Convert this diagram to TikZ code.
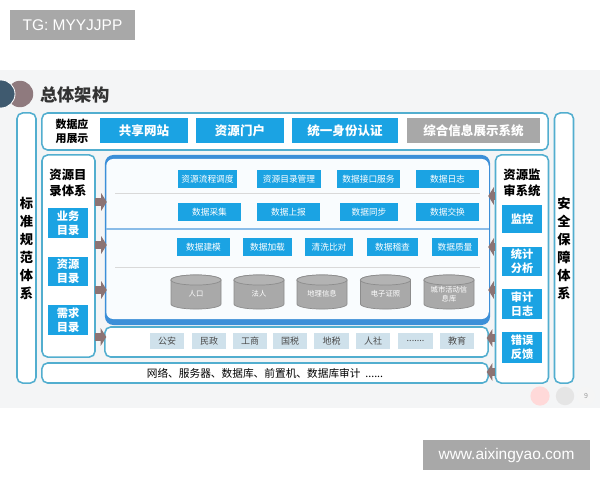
\documentclass[tikz,border=0pt]{standalone}
\usepackage{fontspec}
\setmainfont{Noto Sans CJK SC}
\newfontfamily\wmfont{Liberation Sans}
\usetikzlibrary{arrows.meta}
\definecolor{boxblue}{HTML}{1BA3E3}
\definecolor{frameblue}{HTML}{52AECF}
\definecolor{midblue}{HTML}{3C8FD8}
\definecolor{mauve}{HTML}{8C7373}
\definecolor{slidebg}{HTML}{F4F5F6}
\definecolor{govfill}{HTML}{CFE1EB}
\definecolor{cylgray}{HTML}{A9A9A9}
\definecolor{wmgray}{HTML}{A8A8A8}
\definecolor{darkdot}{HTML}{3F5A6F}
\definecolor{mauvedot}{HTML}{8F7A7E}

\tikzset{
  panel/.style={draw=frameblue, line width=1.1pt, rounded corners=4pt, fill=white, inner sep=0pt},
  bluebox/.style={fill=boxblue, text=white, inner sep=0pt, align=center, font=\bfseries\fontsize{8}{10}\selectfont},
  bigbox/.style={bluebox, minimum height=0.625cm, font=\bfseries\fontsize{8.9}{10}\selectfont},
  cell/.style={fill=boxblue, text=white, inner sep=0pt, font=\fontsize{6.2}{7}\selectfont},
  govbox/.style={fill=govfill, text=black!70, inner sep=0pt, minimum width=0.85cm, minimum height=0.4cm, font=\fontsize{6.4}{7}\selectfont},
  dbshape/.style={draw=black!45, line width=0.5pt, fill=cylgray},
  dbtext/.style={text=white, inner sep=0pt, align=center, font=\fontsize{5.2}{6}\selectfont},
  coltext/.style={align=center, font=\bfseries\fontsize{9.4}{12.8}\selectfont},
  subtitle/.style={align=center, font=\bfseries\fontsize{8.8}{11}\selectfont},
  wmbox/.style={fill=wmgray, text=white, inner sep=0pt, font=\wmfont\fontsize{11}{12}\selectfont},
  flow/.style={draw=mauve, line width=6pt, shorten >=-1.5pt, shorten <=-0.5pt, -{Triangle[length=4pt, width=12.5pt]}}
}

\begin{document}
\begin{tikzpicture}[x=0.025cm, y=-0.025cm]
\useasboundingbox[fill=white] (0,0) rectangle (600,480);
\fill[slidebg] (0,70) rectangle (600,408);
% header
\fill[mauvedot] (20,94) circle[radius=0.33cm];
\fill[darkdot, draw=white, line width=0.6pt] (1,94) circle[radius=0.35cm];
\node[font=\bfseries\fontsize{12.3}{14}\selectfont, text=black!80] (title) at (75,95) {总体架构};
%
\node[panel, minimum width=0.475cm, minimum height=6.75cm, coltext] (stdcol) at (26.5,248) {标\\准\\规\\范\\体\\系};
\node[panel, minimum width=0.475cm, minimum height=6.75cm, coltext] (safecol) at (564,248) {安\\全\\保\\障\\体\\系};
%
\node[panel, minimum width=12.65cm, minimum height=0.925cm] (approw) at (295,131.5) {};
\node[align=center, font=\bfseries\fontsize{7.8}{10}\selectfont] (applbl) at (72,131) {数据应\\用展示};
\node[bigbox, minimum width=2.2cm] (site) at (144,130.5) {共享网站};
\node[bigbox, minimum width=2.2cm] (portal) at (240,130.5) {资源门户};
\node[bigbox, minimum width=2.65cm] (auth) at (345,130.5) {统一身份认证};
\node[bigbox, minimum width=3.325cm, fill=wmgray] (info) at (473.5,130.5) {综合信息展示系统};
%
\node[panel, minimum width=1.325cm, minimum height=5.05cm] (dir) at (68.5,256) {};
\node[subtitle] (dirlbl) at (68,183) {资源目\\录体系};
\node[bluebox, minimum width=1cm, minimum height=0.75cm] (bizdir) at (68,223) {业务\\目录};
\node[bluebox, minimum width=1cm, minimum height=0.73cm] (resdir) at (68,271.5) {资源\\目录};
\node[bluebox, minimum width=1cm, minimum height=0.75cm] (reqdir) at (68,320) {需求\\目录};
%
\node[fill=midblue, rounded corners=6pt, minimum width=9.625cm, minimum height=4.25cm] (mid) at (297.5,240) {};
\node[fill=white!97!midblue, rounded corners=5pt, minimum width=9.56cm, minimum height=4cm] (midin) at (297.5,239) {};
\draw[black!15] (115,193) -- (480,193);
\draw[midblue!60, line width=0.8pt] (midin.west |- 0,229) -- (midin.east |- 0,229);
\draw[black!15] (115,267) -- (480,267);
\node[cell, minimum width=1.475cm, minimum height=0.425cm] (flowctl) at (207.5,179) {资源流程调度};
\node[cell, minimum width=1.6cm, minimum height=0.425cm] (catmgr) at (289,179) {资源目录管理};
\node[cell, minimum width=1.575cm, minimum height=0.425cm] (apisvc) at (368.5,179) {数据接口服务};
\node[cell, minimum width=1.575cm, minimum height=0.425cm] (datalog) at (447.5,179) {数据日志};
\node[cell, minimum width=1.575cm, minimum height=0.425cm] (collect) at (209.5,212) {数据采集};
\node[cell, minimum width=1.575cm, minimum height=0.425cm] (report) at (288.5,212) {数据上报};
\node[cell, minimum width=1.45cm, minimum height=0.425cm] (sync) at (369,212) {数据同步};
\node[cell, minimum width=1.575cm, minimum height=0.425cm] (swap) at (447.5,212) {数据交换};
\node[cell, minimum width=1.325cm, minimum height=0.45cm] (model) at (203.5,247) {数据建模};
\node[cell, minimum width=1.225cm, minimum height=0.45cm] (load) at (267.5,247) {数据加载};
\node[cell, minimum width=1.2cm, minimum height=0.45cm] (clean) at (329,247) {清洗比对};
\node[cell, minimum width=1.275cm, minimum height=0.45cm] (audit) at (392.5,247) {数据稽查};
\node[cell, minimum width=1.15cm, minimum height=0.45cm] (quality) at (455,247) {数据质量};
% databases
\foreach \cx/\nm/\txt in {196/people/人口, 259/legal/法人, 322/geo/地理信息, 385.5/license/电子证照, 449/city/{城市活动信\\息库}}{
  \filldraw[dbshape] (\cx-25,280) -- (\cx-25,304) arc[start angle=180, end angle=360, x radius=17.8pt, y radius=3.6pt]
    -- (\cx+25,280) arc[start angle=0, end angle=180, x radius=17.8pt, y radius=3.6pt] -- cycle;
  \filldraw[dbshape, fill=cylgray!88] (\cx,280) ellipse[x radius=17.8pt, y radius=3.6pt];
  \node[dbtext] (\nm) at (\cx,294) {\txt};
}
%
\node[panel, minimum width=9.575cm, minimum height=0.75cm] (gov) at (296.5,342) {};
\node[govbox] (police) at (167,341) {公安};
\node[govbox] (civil) at (209,341) {民政};
\node[govbox] (trade) at (250,341) {工商};
\node[govbox] (ntax) at (290,341) {国税};
\node[govbox] (ltax) at (331.5,341) {地税};
\node[govbox] (social) at (373,341) {人社};
\node[govbox] (more) at (415.5,341) {.......};
\node[govbox] (edu) at (457,341) {教育};
%
\node[panel, minimum width=11.15cm, minimum height=0.5cm, font=\fontsize{7.6}{9}\selectfont] (infra) at (265,373) {网络、服务器、数据库、前置机、数据库审计\ \ ......};
%
\node[panel, minimum width=1.325cm, minimum height=5.7cm] (aud) at (522,269) {};
\node[subtitle] (audlbl) at (522,183) {资源监\\审系统};
\node[bluebox, minimum width=0.975cm, minimum height=0.7cm] (monitor) at (522,219) {监控};
\node[bluebox, minimum width=0.975cm, minimum height=0.73cm] (stats) at (522,261.5) {统计\\分析};
\node[bluebox, minimum width=0.975cm, minimum height=0.75cm] (auditlog) at (522,304) {审计\\日志};
\node[bluebox, minimum width=0.975cm, minimum height=0.78cm] (errfb) at (522,347.5) {错误\\反馈};
%
\draw[flow] (dir.east |- 0,202) -- (mid.west |- 0,202);
\draw[flow] (dir.east |- 0,245) -- (mid.west |- 0,245);
\draw[flow] (dir.east |- 0,290) -- (mid.west |- 0,290);
\draw[flow] (dir.east |- 0,337) -- (gov.west |- 0,337);
\draw[flow] (aud.west |- 0,196) -- (mid.east |- 0,196);
\draw[flow] (aud.west |- 0,247) -- (mid.east |- 0,247);
\draw[flow] (aud.west |- 0,290) -- (mid.east |- 0,290);
\draw[flow] (aud.west |- 0,338) -- (gov.east |- 0,338);
\draw[flow] (aud.west |- 0,372) -- (infra.east |- 0,372);
% page mark
\fill[red!15] (540,396) circle[radius=0.24cm];
\fill[black!10] (565,396) circle[radius=0.23cm];
\node[circle, fill=black!4, minimum size=0.46cm, inner sep=0pt, text=black!40, font=\fontsize{5}{6}\selectfont] (page) at (586,396) {9};
% watermarks
\node[wmbox, minimum width=3.125cm, minimum height=0.75cm] (tg) at (72.5,25) {TG: MYYJJPP};
\node[wmbox, minimum width=4.175cm, minimum height=0.75cm] (site2) at (506.5,455) {www.aixingyao.com};
\end{tikzpicture}
\end{document}
